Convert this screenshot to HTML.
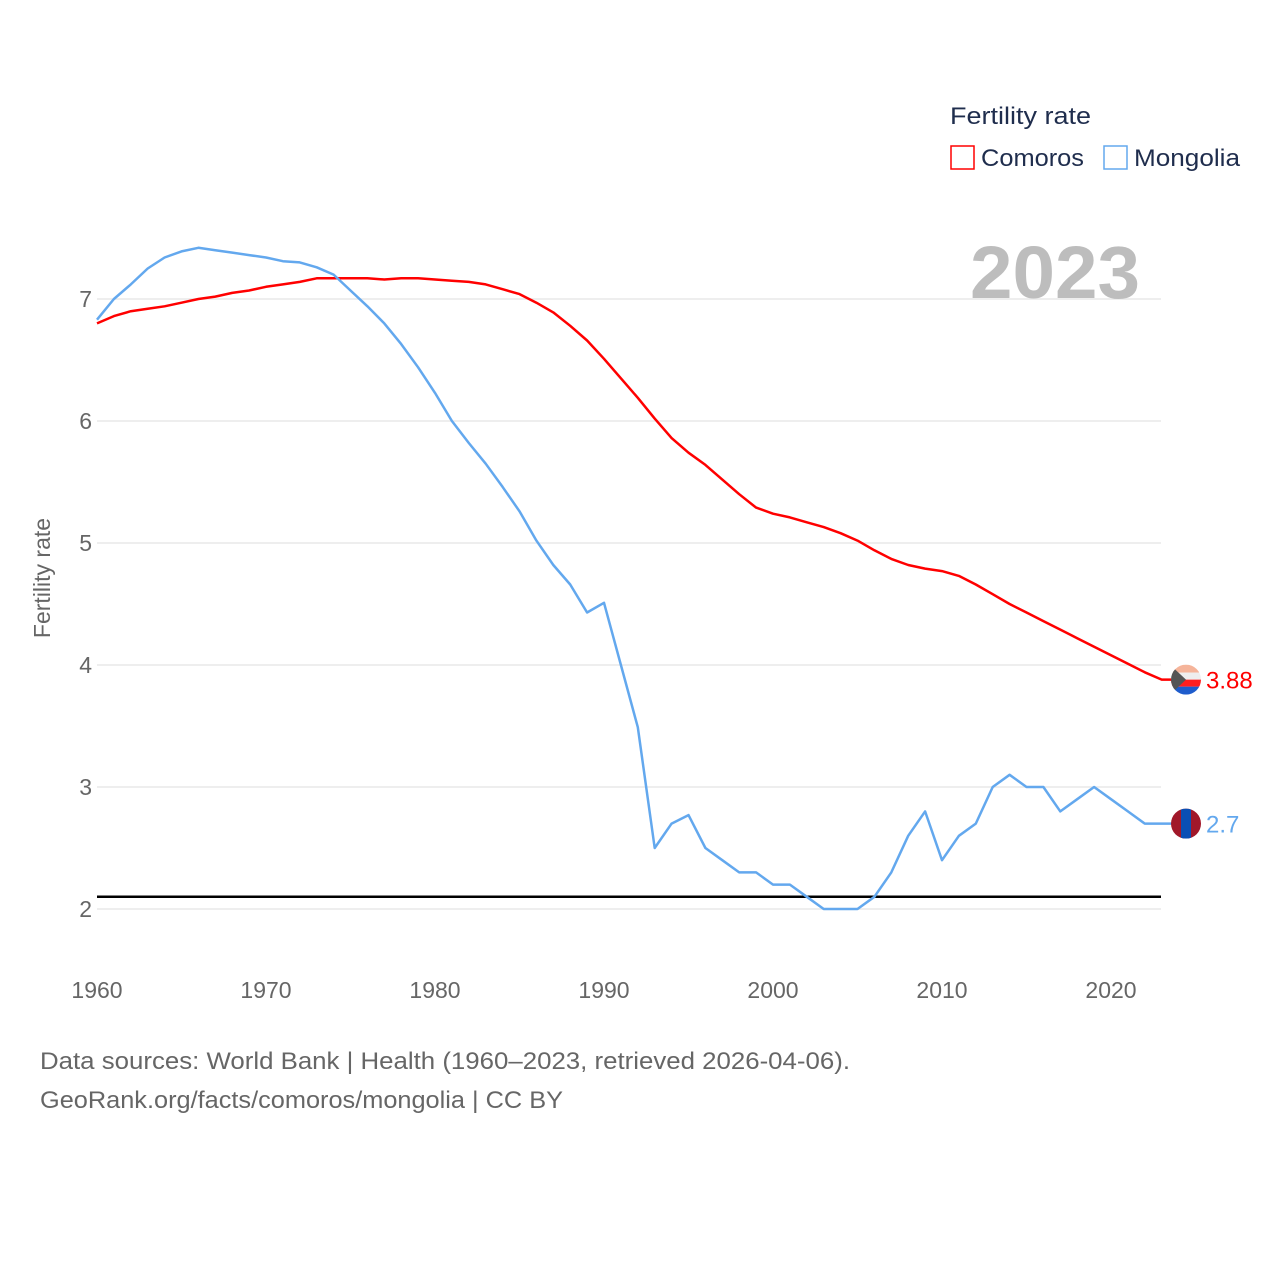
<!DOCTYPE html>
<html><head><meta charset="utf-8">
<style>
body{margin:0;background:#fff;font-family:"Liberation Sans",sans-serif;}
svg text{font-family:"Liberation Sans",sans-serif;}
</style></head>
<body>
<svg id="chart" width="1280" height="1280" xmlns="http://www.w3.org/2000/svg">
<g id="grid"></g>
<g id="yticks"></g>
<g id="xticks"></g>
<text x="970" y="298" textLength="170" lengthAdjust="spacingAndGlyphs" font-size="74" font-weight="bold" fill="#bdbdbd">2023</text>
<text transform="translate(50,578) rotate(-90)" text-anchor="middle" font-size="23" fill="#666">Fertility rate</text>
<line id="refline" stroke="#000" stroke-width="2.5"></line>
<g id="series"></g>
<g>
<text x="950" y="124" textLength="141" lengthAdjust="spacingAndGlyphs" font-size="24" fill="#1f2d4d">Fertility rate</text>
<rect x="951" y="146" width="23" height="23" fill="none" stroke="#ff0000" stroke-width="1.5"/>
<text x="981" y="166" textLength="103" lengthAdjust="spacingAndGlyphs" font-size="24" fill="#1f2d4d">Comoros</text>
<rect x="1104" y="146" width="23" height="23" fill="none" stroke="#63a8ee" stroke-width="1.5"/>
<text x="1134" y="166" textLength="106" lengthAdjust="spacingAndGlyphs" font-size="24" fill="#1f2d4d">Mongolia</text>
</g>
<text x="40" y="1069" textLength="810" lengthAdjust="spacingAndGlyphs" font-size="24" fill="#666">Data sources: World Bank | Health (1960–2023, retrieved 2026-04-06).</text>
<text x="40" y="1108" textLength="523" lengthAdjust="spacingAndGlyphs" font-size="24" fill="#666">GeoRank.org/facts/comoros/mongolia | CC BY</text>
</svg>
<script>
const years = []; for (let y = 1960; y <= 2023; y++) years.push(y);
const comoros = [6.80,6.86,6.90,6.92,6.94,6.97,7.00,7.02,7.05,7.07,7.10,7.12,7.14,7.17,7.17,7.17,7.17,7.16,7.17,7.17,7.16,7.15,7.14,7.12,7.08,7.04,6.97,6.89,6.78,6.66,6.51,6.35,6.19,6.02,5.86,5.74,5.64,5.52,5.40,5.29,5.24,5.21,5.17,5.13,5.08,5.02,4.94,4.87,4.82,4.79,4.77,4.73,4.66,4.58,4.50,4.43,4.36,4.29,4.22,4.15,4.08,4.01,3.94,3.88];
const mongolia = [6.83,7.00,7.12,7.25,7.34,7.39,7.42,7.40,7.38,7.36,7.34,7.31,7.30,7.26,7.20,7.07,6.94,6.80,6.63,6.44,6.23,6.00,5.82,5.65,5.46,5.26,5.02,4.82,4.66,4.43,4.51,4.00,3.49,2.50,2.70,2.77,2.50,2.40,2.30,2.30,2.20,2.20,2.10,2.00,2.00,2.00,2.10,2.30,2.60,2.80,2.40,2.60,2.70,3.00,3.10,3.00,3.00,2.80,2.90,3.00,2.90,2.80,2.70,2.70];
const yTicks = [2,3,4,5,6,7];
const xTicks = [1960,1970,1980,1990,2000,2010,2020];
const replacement = 2.1;
const seriesList = [
  {name:'comoros', values: comoros, color:'#ff0000', label:'3.88'},
  {name:'mongolia', values: mongolia, color:'#63a8ee', label:'2.7'}
];
const NS='http://www.w3.org/2000/svg';
const X = yr => 97 + (yr-1960)*(1111-97)/60;
const Y = v => 299 + (7-v)*(909-299)/5;
function mk(tag, attrs, parent){const e=document.createElementNS(NS,tag);for(const k in attrs)e.setAttribute(k,attrs[k]);parent.appendChild(e);return e;}
const grid=document.getElementById('grid'), yt=document.getElementById('yticks'), xt=document.getElementById('xticks');
yTicks.forEach(t=>{
  const l=mk('line',{x1:97,x2:1161,y1:Y(t),y2:Y(t),stroke:'#e8e8e8','stroke-width':1.5},grid);
  
  
  const tx=mk('text',{x:92,y:Y(t)+8,'text-anchor':'end','font-size':23,fill:'#666'},yt);
  tx.textContent=t;
  
  
});
xTicks.forEach(t=>{
  const tx=mk('text',{x:X(t),y:998,'text-anchor':'middle','font-size':23,fill:'#666'},xt);
  tx.textContent=t;
  
  
});
const rl=document.getElementById('refline');
rl.setAttribute('x1',97);rl.setAttribute('x2',1161);rl.setAttribute('y1',Y(replacement));rl.setAttribute('y2',Y(replacement));
const sg=document.getElementById('series');
seriesList.forEach(s=>{
  const pts=s.values.map((v,i)=>X(years[i]).toFixed(1)+','+Y(v).toFixed(1));
  const last=s.values[s.values.length-1];
  pts.push('1172,'+Y(last).toFixed(1));
  const p=mk('polyline',{points:pts.join(' '),fill:'none',stroke:s.color,'stroke-width':2.5,'stroke-linejoin':'round'},sg);
  
  
  const cy=Y(last);
  const g=mk('g',{},sg);
  
  
  const cid='clip-'+s.name;
  const cp=mk('clipPath',{id:cid},g); mk('circle',{cx:1186,cy:cy,r:15},cp);
  const fg=mk('g',{'clip-path':'url(#'+cid+')'},g);
  if(s.name==='comoros'){
    mk('rect',{x:1170,y:cy-15,width:32,height:8,fill:'#f5b49a'},fg);
    mk('rect',{x:1170,y:cy-7,width:32,height:7,fill:'#eeeeee'},fg);
    mk('rect',{x:1170,y:cy,width:32,height:7,fill:'#ff1e1e'},fg);
    mk('rect',{x:1170,y:cy+7,width:32,height:8,fill:'#1e5ccc'},fg);
    mk('polygon',{points:`1170,${cy-15} 1186,${cy} 1170,${cy+15}`,fill:'#555'},fg);
  } else {
    mk('rect',{x:1170,y:cy-15,width:32,height:30,fill:'#a1182a'},fg);
    mk('rect',{x:1181,y:cy-15,width:10,height:30,fill:'#0a4fb5'},fg);
  }
  const t=mk('text',{x:1206,y:cy+9,'font-size':24,fill:s.color},sg);
  t.textContent=s.label;
  
  
});
</script>
</body></html>
